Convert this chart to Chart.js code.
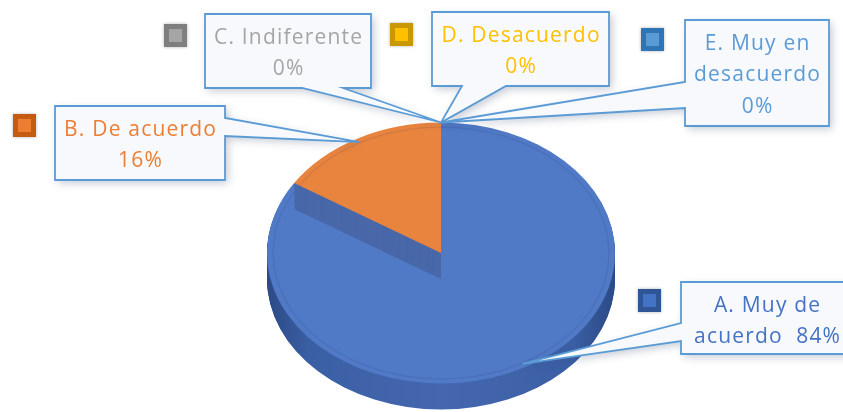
<!DOCTYPE html>
<html>
<head>
<meta charset="utf-8">
<script src="https://cdn.jsdelivr.net/npm/chart.js@4"></script>
<style>
  html, body { margin: 0; padding: 0; background: #ffffff; }
  canvas { display: block; }
</style>
</head>
<body>
<canvas id="pieChart" width="843" height="412"></canvas>
<script>
const categories = ['A. Muy de acuerdo', 'B. De acuerdo', 'C. Indiferente', 'D. Desacuerdo', 'E. Muy en desacuerdo'];
const percentages = [84, 16, 0, 0, 0];
const sliceColors = ['#5079C6', '#E9843F', '#A5A5A5', '#FFC000', '#5B9BD5'];
const labelColors = ['#4472C4', '#ED7D31', '#A5A5A5', '#FFC000', '#5B9BD5'];
const keyBorders = ['#2F5597', '#C55A11', '#7F7F7F', '#C99700', '#2E75B6'];


const PIE_CY = 253;
const RY_RATIO = 0.75;
const DEPTH = 26;

// callout boxes: x, y, w, h / side the pointer leaves from / where the pointer base sits
const callouts = [
  { box: [681, 282, 172, 72], side: 'left', base: [323, 341], breaks: [3, 1], pctInline: true, key: [638, 289] },
  { box: [55, 106, 170, 74], side: 'right', base: [118, 136], breaks: [3], pctInline: false, key: [13, 114] },
  { box: [205, 14, 166, 74], side: 'bottom', base: [302, 343], breaks: [2], pctInline: false, key: [164, 24] },
  { box: [432, 12, 177, 74], side: 'bottom', base: [462, 506], breaks: [2], pctInline: false, key: [390, 23] },
  { box: [685, 20, 144, 106], side: 'left', base: [82, 108], breaks: [3, 1], pctInline: false, key: [641, 28] }
];

function labelLines(i) {
  const words = categories[i].split(' ');
  const lines = [];
  let k = 0;
  callouts[i].breaks.forEach(n => {
    lines.push(words.slice(k, k + n).join(' '));
    k += n;
  });
  const pct = percentages[i] + '%';
  if (callouts[i].pctInline) lines[lines.length - 1] += '  ' + pct;
  else lines.push(pct);
  return lines;
}

function squash(ctx, p, dy) {
  ctx.translate(p.x, PIE_CY + dy);
  ctx.scale(1, RY_RATIO);
  ctx.translate(-p.x, -p.y);
}

const pie3d = {
  id: 'pie3d',
  beforeDatasetsDraw(chart) {
    const ctx = chart.ctx;
    const meta = chart.getDatasetMeta(0);
    meta.data.forEach((arc, i) => {
      const p = arc.getProps(['x', 'y', 'startAngle', 'endAngle', 'outerRadius']);
      if (p.endAngle - p.startAngle <= 0) return;

      let side;
      if (i === 0) {
        side = ctx.createLinearGradient(p.x - p.outerRadius, 0, p.x + p.outerRadius, 0);
        side.addColorStop(0, '#2B4A86');
        side.addColorStop(0.12, '#3B5FA4');
        side.addColorStop(0.5, '#4467AF');
        side.addColorStop(0.88, '#3B5FA4');
        side.addColorStop(1, '#2B4A86');
      } else {
        side = '#4968A9';
      }

      for (let d = DEPTH; d >= 1; d--) {
        ctx.save();
        squash(ctx, p, d);
        ctx.beginPath();
        ctx.moveTo(p.x, p.y);
        ctx.arc(p.x, p.y, p.outerRadius, p.startAngle, p.endAngle);
        ctx.closePath();
        ctx.fillStyle = side;
        ctx.fill();
        ctx.restore();
      }

      ctx.save();
      squash(ctx, p, 0);
      arc.draw(ctx);
      // faint bevel ring on the top face
      ctx.beginPath();
      ctx.arc(p.x, p.y, p.outerRadius * 0.965, p.startAngle, p.endAngle);
      ctx.restore();
      ctx.strokeStyle = 'rgba(30,50,100,0.12)';
      ctx.lineWidth = 1.2;
      ctx.stroke();
    });
    return false;
  }
};

const calloutPlugin = {
  id: 'callouts',
  afterDraw(chart) {
    const ctx = chart.ctx;
    const meta = chart.getDatasetMeta(0);

    meta.data.forEach((arc, i) => {
      const c = callouts[i];
      const p = arc.getProps(['x', 'y', 'startAngle', 'endAngle', 'outerRadius']);
      const mid = (p.startAngle + p.endAngle) / 2;
      const f = percentages[i] > 0 ? 0.97 : 1;
      const tx = p.x + Math.cos(mid) * p.outerRadius * f;
      const ty = PIE_CY + Math.sin(mid) * p.outerRadius * RY_RATIO * f;

      const [x, y, w, h] = c.box;
      const L = x, R = x + w, T = y, B = y + h;
      const [b1, b2] = c.base;

      ctx.save();
      ctx.beginPath();
      if (c.side === 'bottom') {
        ctx.moveTo(L, T); ctx.lineTo(R, T); ctx.lineTo(R, B);
        ctx.lineTo(b2, B); ctx.lineTo(tx, ty); ctx.lineTo(b1, B);
        ctx.lineTo(L, B);
      } else if (c.side === 'left') {
        ctx.moveTo(L, T); ctx.lineTo(R, T); ctx.lineTo(R, B); ctx.lineTo(L, B);
        ctx.lineTo(L, b2); ctx.lineTo(tx, ty); ctx.lineTo(L, b1);
      } else {
        ctx.moveTo(L, T); ctx.lineTo(R, T); ctx.lineTo(R, b1);
        ctx.lineTo(tx, ty); ctx.lineTo(R, b2); ctx.lineTo(R, B);
        ctx.lineTo(L, B);
      }
      ctx.closePath();
      ctx.shadowColor = 'rgba(40,60,100,0.28)';
      ctx.shadowBlur = 8;
      ctx.shadowOffsetX = 3;
      ctx.shadowOffsetY = 3;
      ctx.fillStyle = '#F7F9FC';
      ctx.fill();
      ctx.shadowColor = 'transparent';
      ctx.strokeStyle = '#5B9BD5';
      ctx.lineWidth = 1.8;
      ctx.lineJoin = 'miter';
      ctx.stroke();
      ctx.restore();

      // text
      ctx.save();
      ctx.font = '21px "Open Sans"';
      ctx.letterSpacing = '1.2px';
      ctx.fillStyle = labelColors[i];
      ctx.textAlign = 'center';
      ctx.textBaseline = 'middle';
      labelLines(i).forEach((line, k) => {
        ctx.fillText(line, x + w / 2 + 0.6, y + 24 + k * 31.5);
      });
      ctx.restore();

      // legend key square
      const [kx, ky] = c.key;
      ctx.save();
      ctx.shadowColor = 'rgba(0,0,0,0.3)';
      ctx.shadowBlur = 3;
      ctx.fillStyle = keyBorders[i];
      ctx.fillRect(kx, ky, 23, 23);
      ctx.shadowColor = 'transparent';
      ctx.fillStyle = labelColors[i];
      ctx.fillRect(kx + 5, ky + 5, 13, 13);
      ctx.restore();
    });
  }
};

const ctx = document.getElementById('pieChart').getContext('2d');

const pieChart = new Chart(ctx, {
  type: 'pie',
  data: {
    labels: categories,
    datasets: [{
      data: percentages,
      backgroundColor: sliceColors,
      borderWidth: 0
    }]
  },
  options: {
    responsive: false,
    animation: false,
    events: [],
    layout: {
      padding: { left: 267, right: 228, top: 32, bottom: 32 }
    },
    plugins: {
      legend: { display: false },
      tooltip: { enabled: false }
    }
  },
  plugins: [pie3d, calloutPlugin]
});
</script>
</body>
</html>
